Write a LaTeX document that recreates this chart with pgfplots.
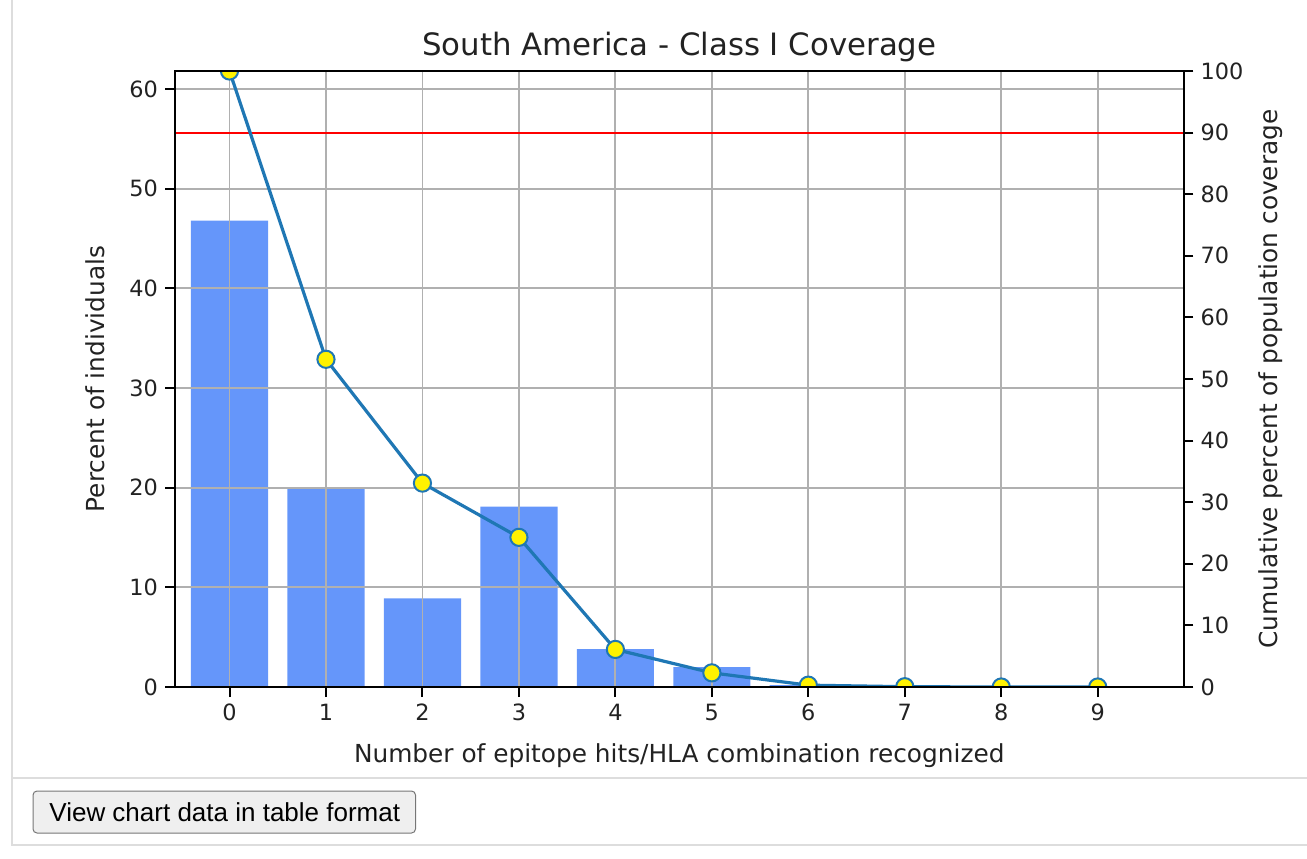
\documentclass[border=0pt]{standalone}
\usepackage{pgfplots}
\pgfplotsset{compat=1.18}
\usepackage{fontspec}
\setmainfont{DejaVu Sans}
\newfontfamily\btnfont{Liberation Sans}
\definecolor{barblue}{HTML}{6596FA}
\definecolor{lineblue}{HTML}{1F77B4}
\definecolor{gridgray}{HTML}{B0B0B0}
\definecolor{framegray}{HTML}{DDDDDD}
\definecolor{btnfill}{HTML}{EFEFEF}
\definecolor{btnedge}{HTML}{767676}
\definecolor{txt}{HTML}{222222}

\pgfplotstableread{
x pct
0 46.8
1 19.9
2 8.9
3 18.1
4 3.8
5 2.0
6 0.2
7 0.02
8 0.0
9 0.0
}\bardata

\pgfplotstableread{
x cum
0 100
1 53.2
2 33.1
3 24.3
4 6.1
5 2.3
6 0.3
7 0.05
8 0.0
9 0.0
}\cumdata

\begin{document}
\begin{tikzpicture}[x=0.5pt,y=-0.5pt]
\path[use as bounding box] (0,0) rectangle (1307,858);
% page frame
\draw[framegray, line width=1pt] (11.5,0) -- (11.5,846);
\draw[framegray, line width=1pt] (11.5,778) -- (1307,778);
\draw[framegray, line width=1pt] (11.5,845) -- (1307,845);
\draw[rounded corners=2pt, fill=btnfill, draw=btnedge, line width=0.5pt] (33,791) rectangle (415.5,833);
\node[font=\btnfont\fontsize{13}{15}\selectfont, anchor=west, inner sep=0pt, text=black] at (49,812) {View chart data in table format};

\begin{axis}[
  at={(87.5pt,-343.5pt)}, anchor=south west,
  scale only axis, width=504.25pt, height=308pt,
  xmin=-0.565, xmax=9.889, ymin=0, ymax=61.8,
  xtick={0,1,...,9}, ytick={0,10,...,60},
  tick pos=left, tick align=outside, major tick length=5pt,
  grid=major, grid style={gridgray, line width=0.9pt},
  axis line style={line width=1pt}, tick style={black, line width=1pt},
  axis on top,
  /pgf/number format/assume math mode=true,
  ticklabel style={font=\fontsize{11.2}{13}\selectfont, text=txt},
  title={South America - Class I Coverage},
  title style={at={(axis description cs:0.5,1.026)}, anchor=base, yshift=-6.5pt, font=\fontsize{15.4}{18}\selectfont, text=txt},
  xlabel={Number of epitope hits/HLA combination recognized},
  xlabel style={at={(axis description cs:0.5,-0.1218)}, anchor=base, font=\fontsize{12.4}{15}\selectfont, text=txt},
  ylabel={Percent of individuals},
  ylabel style={at={(axis description cs:-0.0793,0.5)}, anchor=center, font=\fontsize{12.4}{15}\selectfont, text=txt},
]
\addplot[ybar, bar width=0.8, fill=barblue, draw=none] table[x=x, y=pct] {\bardata};
\end{axis}

\begin{axis}[
  at={(87.5pt,-343.5pt)}, anchor=south west,
  scale only axis, width=504.25pt, height=308pt,
  xmin=-0.565, xmax=9.889, ymin=0, ymax=100,
  xtick=\empty, ytick={0,10,...,100},
  ytick pos=right, yticklabel pos=right, tick align=outside, major tick length=5pt,
  axis line style={line width=1pt}, tick style={black, line width=1pt},
  axis on top, clip marker paths=true,
  /pgf/number format/assume math mode=true,
  ticklabel style={font=\fontsize{11.2}{13}\selectfont, text=txt},
  ylabel={Cumulative percent of population coverage},
  ylabel style={at={(axis description cs:1.0868,0.5)}, anchor=center, font=\fontsize{12.4}{15}\selectfont, text=txt},
]
\addplot[red, line width=1pt, forget plot] coordinates {(-0.565,90) (9.889,90)};
\addplot[lineblue, line width=1.6pt, mark=*, mark size=4.3pt,
  mark options={fill=yellow, draw=lineblue, line width=1pt}] table[x=x, y=cum] {\cumdata};
\end{axis}
\end{tikzpicture}
\end{document}
